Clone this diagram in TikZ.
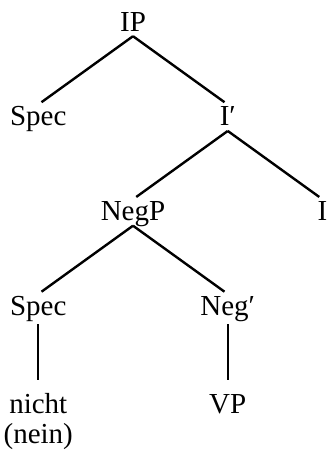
\documentclass[tikz,border=0pt]{standalone}
\usepackage{fontspec}
\setmainfont{Liberation Serif}
\usetikzlibrary{positioning}

\begin{document}
\begin{tikzpicture}[node distance={67pt}, very thick, main/.style = {inner sep=0pt, text height=10pt, text depth=2pt, font=\fontsize{14.5}{17}\selectfont}, branch/.style = {shorten >=2pt}, stem/.style = {shorten <=2pt, shorten >=6pt}]
\useasboundingbox (-66.5pt,11.5pt) rectangle (97pt,-213.5pt);
\node[main] (ip) {IP};
\node[main] (spec1) [below left of=ip] {Spec};
\node[main] (ibar) [below right of=ip] {I′};
\node[main] (negp) [below left of=ibar] {NegP};
\node[main] (i) [below right of=ibar] {I};
\node[main] (spec2) [below left of=negp] {Spec};
\node[main] (negbar) [below right of=negp] {Neg′};
\node[main] (nicht) [node distance=49pt, below of=spec2, label={[main, label distance=2pt]below:(nein)}] {nicht};
\node[main] (vp) [node distance=49pt, below of=negbar] {VP};

\draw[branch] (ip.south) -- (spec1.north);
\draw[branch] (ip.south) -- (ibar.north);
\draw[branch] (ibar.south) -- (negp.north);
\draw[branch] (ibar.south) -- (i.north);
\draw[branch] (negp.south) -- (spec2.north);
\draw[branch] (negp.south) -- (negbar.north);
\draw[stem] (spec2.south) -- (nicht.north);
\draw[stem] (negbar.south) -- (vp.north);
\end{tikzpicture}
\end{document}
